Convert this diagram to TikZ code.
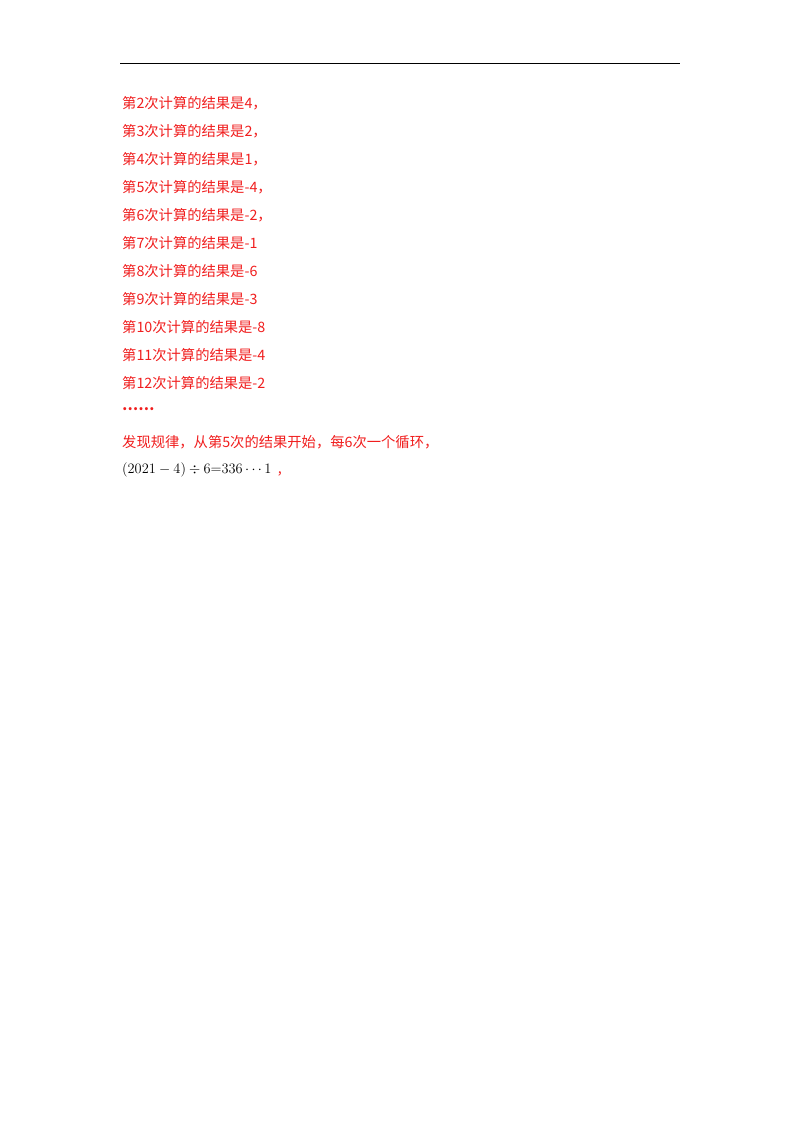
\documentclass[tikz,border=0pt]{standalone}
\usepackage{amsmath,amssymb}
\usepackage{fontspec}
\setmainfont{Liberation Serif}
\newfontfamily\cjk{Noto Sans CJK SC}
\newfontfamily\dvs{DejaVu Sans}
\definecolor{rd}{RGB}{240,30,30}
\definecolor{bl}{RGB}{30,80,230}
\newcommand{\circn}{\tikz[baseline=0pt]{\node[circle,draw,inner sep=0.3pt,font=\fontsize{4}{4}\selectfont] {n};}}
\tikzset{t/.style={anchor=west,inner sep=0pt,font=\fontsize{14.3}{17}\selectfont\cjk},r/.style={t,text=rd}}
\begin{document}
\begin{tikzpicture}[x=1pt,y=-1pt]
\useasboundingbox (0,0) rectangle (800,1132);
\draw[line width=0.8pt] (120,63) -- (680,63);
\node[r] (l1) at (122,103) {第2次计算的结果是4，};
\node[r] (l2) at (122,131) {第3次计算的结果是2，};
\node[r] (l3) at (122,159) {第4次计算的结果是1，};
\node[r] (l4) at (122,187) {第5次计算的结果是-4，};
\node[r] (l5) at (122,215) {第6次计算的结果是-2，};
\node[r] (l6) at (122,243) {第7次计算的结果是-1};
\node[r] (l7) at (122,271) {第8次计算的结果是-6};
\node[r] (l8) at (122,299) {第9次计算的结果是-3};
\node[r] (l9) at (122,327) {第10次计算的结果是-8};
\node[r] (l10) at (122,355) {第11次计算的结果是-4};
\node[r] (l11) at (122,383) {第12次计算的结果是-2};
\node[r] (l12) at (122,409) {\textbf{……}};
\node[r] (l13) at (122,442) {发现规律，从第5次的结果开始，每6次一个循环，};
\node[t] (l14) at (122,446+0) {};
\node[t] (l15) at (122,470) {$\left(2021-4\right)\div 6{=}336\cdots1$\ \ {\color{rd},}};
\node[r] (l16) at (122,481+0) {};
\end{tikzpicture}
\end{document}
